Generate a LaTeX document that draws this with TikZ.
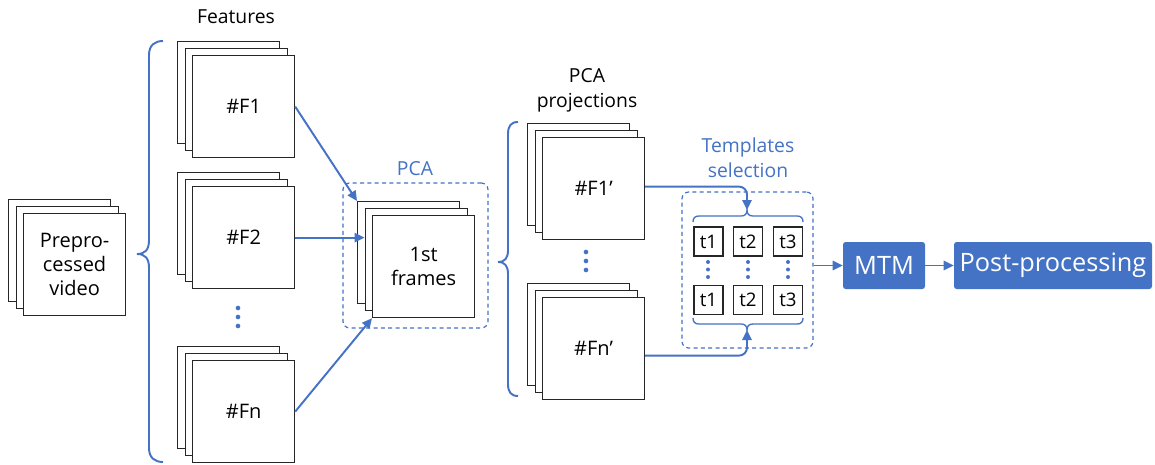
\documentclass[tikz,border=0pt]{standalone}
\usepackage{fontspec}
\setmainfont{Open Sans}
\usetikzlibrary{arrows.meta,calc}
\definecolor{bl}{HTML}{4472C4}
\newcommand\mystack[4]{%
  \node[sq] (#1b) at ({#2-15},{#3-14}) {};
  \node[sq] (#1m) at ({#2-7.5},{#3-7}) {};
  \node[sq] (#1) at (#2,#3) {#4};}
\begin{document}
\begin{tikzpicture}[x=0.75pt,y=-0.75pt,
 sq/.style={draw=black!85,fill=white,line width=0.9pt,minimum width=76.5pt,minimum height=76.5pt,inner sep=0pt,anchor=north west,font=\fontsize{15}{18}\selectfont,align=center},
 lbl/.style={font=\fontsize{14.5}{18.75}\selectfont,align=center,inner sep=0pt},
 conn/.style={draw=bl,line width=1.45pt,-{Triangle[length=7.5pt,width=7pt]}},
 brc/.style={draw=bl,line width=1.45pt},
 dbox/.style={draw=bl,dash pattern=on 3pt off 2.5pt,line width=0.9pt,rounded corners=5pt,inner sep=0pt},
 tbox/.style={draw=black!85,line width=0.9pt,minimum size=21.75pt,inner sep=0pt,font=\fontsize{14}{16}\selectfont},
 dot/.style={circle,fill=bl,inner sep=0pt,minimum size=3.5pt},
 fbox/.style={fill=bl,rounded corners=2pt,text=white,inner sep=0pt,minimum height=35.25pt,font=\fontsize{19}{22}\selectfont}
]
\useasboundingbox (0,0) rectangle (1155,464);

% stacks
\mystack{pv}{23}{213}{Prepro-\\cessed\\video}
\mystack{f1}{192}{55}{\#F1}
\mystack{f2}{192}{186}{\#F2}
\mystack{fn}{192}{360}{\#Fn}
\mystack{pc}{372}{215}{1st\\frames}
\mystack{f1p}{542}{137}{\#F1'}
\mystack{fnp}{542}{297}{\#Fn'}

% labels
\node[lbl] (feat) at (236,17) {Features};
\node[lbl] (pcaproj) at (587,90) {PCA\\projections};
\node[lbl,text=bl] (pcalbl) at (415,169) {PCA};
\node[lbl,text=bl] (tslbl) at (748,158) {Templates\\selection};

% dots
\foreach \yy [count=\i] in {308,317,326} \node[dot] (fd\i) at (238,\yy) {};
\foreach \yy [count=\i] in {252,261,270} \node[dot] (pd\i) at (586,\yy) {};
\foreach \xx in {708,748,788}{\foreach \yy in {262,269.5,277} \node[dot,minimum size=3pt] at (\xx,\yy) {};}

% PCA dashed box
\node[dbox,minimum width=108.75pt,minimum height=108.75pt] (pcabox) at (415.5,255.5) {};

% templates box
\node[dbox,minimum width=98.25pt,minimum height=117pt] (tsel) at (747.5,270) {};
\node[tbox] (a1) at (708.5,241.5) {t1};
\node[tbox] (a2) at (748,241.5) {t2};
\node[tbox] (a3) at (788,241.5) {t3};
\node[tbox] (b1) at (708.5,300) {t1};
\node[tbox] (b2) at (748,300) {t2};
\node[tbox] (b3) at (788,300) {t3};

% braces
\draw[brc] (163,41) .. controls (155,41) and (149,45) .. (149,55) -- (149,240)
  .. controls (149,250) and (145,254) .. (137,254)
  .. controls (145,254) and (149,258) .. (149,268) -- (149,448)
  .. controls (149,458) and (155,462) .. (163,462);
\draw[brc] (518,122) .. controls (511,122) and (508,126) .. (508,134) -- (508,250)
  .. controls (508,258) and (505,262) .. (498,262)
  .. controls (505,262) and (508,266) .. (508,274) -- (508,384)
  .. controls (508,392) and (511,396) .. (518,396);
\draw[brc,line width=1pt] (693,222) .. controls (693,218) and (695,216) .. (699,216) -- (741,216)
  .. controls (745,216) and (747,214) .. (747,210)
  .. controls (747,214) and (749,216) .. (753,216) -- (797,216)
  .. controls (801,216) and (803,218) .. (803,222);
\draw[brc,line width=1pt] (693,318) .. controls (693,322) and (695,324) .. (699,324) -- (741,324)
  .. controls (745,324) and (747,326) .. (747,330)
  .. controls (747,326) and (749,324) .. (753,324) -- (797,324)
  .. controls (801,324) and (803,322) .. (803,318);
\coordinate (tt) at (747,210);
\coordinate (tbt) at (747,330);

% connectors
\draw[conn] (f1.east) -- (pcb.north west);
\draw[conn] (f2.east) -- (f2.east -| pcm.west);
\draw[conn] (fn.east) -- (pc.south west);
\draw[conn,rounded corners=6pt] ($(f1p.east)+(0,-2)$) -| (tt);
\draw[conn,rounded corners=6pt] ($(fnp.east)+(0,7)$) -| (tbt);

% MTM and post-processing
\node[fbox,minimum width=61.5pt] (mtm) at (884,265.5) {MTM};
\node[fbox,minimum width=148.5pt] (pp) at (1053,265.5) {Post-processing};
\draw[conn] (mtm.west -| tsel.east) -- (mtm.west);
\draw[conn] (mtm.east) -- (pp.west);
\end{tikzpicture}
\end{document}
